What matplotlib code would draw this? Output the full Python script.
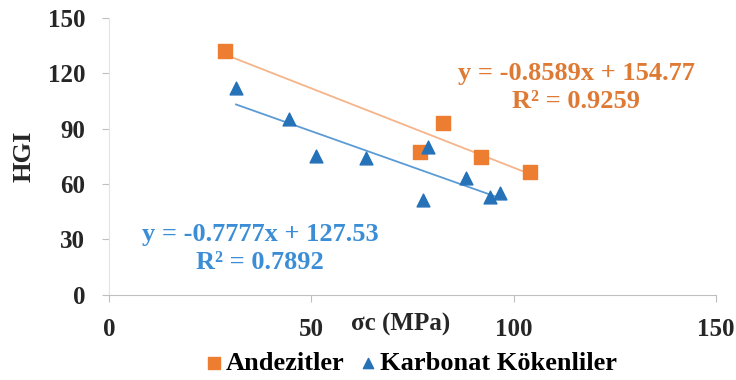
import numpy as np
import matplotlib
matplotlib.use("Agg")
import matplotlib.pyplot as plt

plt.rcParams['font.family'] = ['Liberation Serif', 'DejaVu Serif']
plt.rcParams['font.weight'] = 'bold'

# data
andezit_x = [28.6, 82.5, 76.8, 92.0, 104.0]
andezit_y = [132.3, 93.0, 77.6, 74.6, 66.8]
karbonat_x = [31.4, 44.5, 51.1, 63.5, 78.7, 77.6, 88.3, 94.2, 96.7]
karbonat_y = [111.9, 95.1, 75.3, 74.0, 80.3, 51.4, 63.2, 53.2, 55.0]

# trendline coefficients as printed on the chart
andezit_fit = (-0.8589, 154.77, 0.9259)
karbonat_fit = (-0.7777, 127.53, 0.7892)

labels = ['Andezitler', 'Karbonat Kökenliler']
xticks = [0, 50, 100, 150]
yticks = [0, 30, 60, 90, 120, 150]

c_orange = '#ED7D31'
c_blue = '#2672B8'

fig = plt.figure(figsize=(7.36, 3.8), dpi=100)
ax = fig.add_axes([0.148, 0.224, 0.825, 0.729])

# trendlines
for xs, (m, b, r2), col in [(andezit_x, andezit_fit, '#F5B48A'),
                            (karbonat_x, karbonat_fit, '#5B9BD5')]:
    xx = np.array([min(xs), max(xs)])
    ax.plot(xx, m * xx + b, color=col, lw=1.3, zorder=2)

ax.scatter(andezit_x, andezit_y, marker='s', s=100, color=c_orange,
           label=labels[0], zorder=3)
ax.scatter(karbonat_x, karbonat_y, marker='^', s=85, color=c_blue,
           label=labels[1], zorder=4)

def eq_text(m, b, r2):
    return "y = {:.4f}x + {:.2f}\nR² = {:.4f}".format(m, b, r2)

ax.text(115.5, 112.3, eq_text(*andezit_fit), color='#DE7A34', fontsize=19,
        fontweight='bold', ha='center', va='center', linespacing=1.3)
ax.text(37.3, 25.0, eq_text(*karbonat_fit), color='#3B8ED6', fontsize=19,
        fontweight='bold', ha='center', va='center', linespacing=1.3)

ax.set_xlim(0, 150)
ax.set_ylim(0, 150)
ax.set_xticks(xticks)
ax.set_yticks(yticks)
ax.tick_params(axis='both', labelsize=18, length=5, color='#BFBFBF',
               direction='out')
ax.tick_params(axis='x', pad=12)
ax.tick_params(axis='y', pad=12)
for t in ax.get_xticklabels() + ax.get_yticklabels():
    t.set_fontweight('bold')
    t.set_color('#262626')

for s in ['top', 'right']:
    ax.spines[s].set_visible(False)
ax.spines['bottom'].set_color('#BFBFBF')
ax.spines['left'].set_color('#E3E3E3')

ax.set_xlabel('σc (MPa)', fontsize=18, fontweight='bold', color='#262626')
ax.xaxis.set_label_coords(0.48, -0.105)
ax.xaxis.label.set_va('center')
ax.set_ylabel('HGI', fontsize=19, fontweight='bold', color='#262626')
ax.yaxis.set_label_coords(-0.14, 0.5)
ax.yaxis.label.set_va('center')

fig.legend(loc='center', bbox_to_anchor=(0.557, 0.045), ncol=2,
           frameon=False, handletextpad=0.05, markerscale=0.8,
           columnspacing=0.5, borderaxespad=0, handlelength=0.8,
           prop={'weight': 'bold', 'size': 19})

fig.savefig('out.png', dpi=100)
